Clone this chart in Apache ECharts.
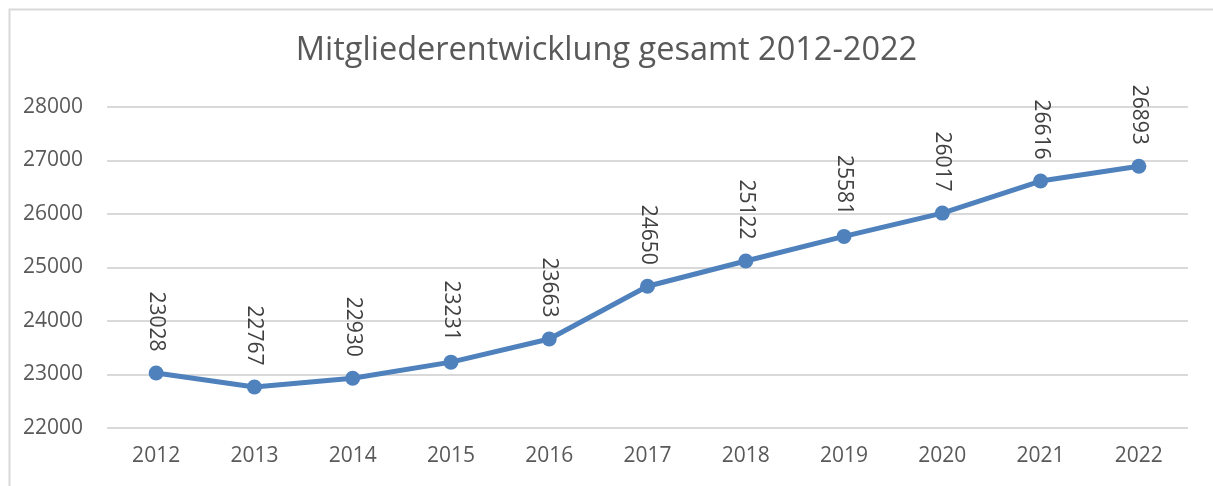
<!DOCTYPE html>
<html>
<head>
<meta charset="utf-8">
<script src="https://cdn.jsdelivr.net/npm/echarts@6/dist/echarts.min.js"></script>
<style>
html,body{margin:0;padding:0;background:#fff;}
#chart{width:1213px;height:486px;}
</style>
</head>
<body>
<div id="chart"></div>
<script>
const titleText = 'Mitgliederentwicklung gesamt 2012-2022';
const years = ['2012','2013','2014','2015','2016','2017','2018','2019','2020','2021','2022'];
const members = [23028, 22767, 22930, 23231, 23663, 24650, 25122, 25581, 26017, 26616, 26893];
const yMin = 22000, yMax = 28000, yStep = 1000;

const FONT = '"Open Sans", "Liberation Sans", Arial, sans-serif';
const chart = echarts.init(document.getElementById('chart'), null, {renderer:'canvas'});
chart.setOption({
  animation: false,
  backgroundColor: '#ffffff',
  graphic: [{
    type: 'rect', left: 7, top: 7, z: -10, silent: true,
    shape: {width: 1240, height: 520},
    style: {fill: 'none', stroke: '#d9d9d9', lineWidth: 2}
  }],
  title: {
    text: titleText, left: 'center', top: 29,
    textStyle: {fontFamily: FONT, fontSize: 32.5, fontWeight: 'normal', color: '#595959'}
  },
  grid: {left: 107, right: 25, top: 107, bottom: 58, containLabel: false},
  xAxis: {
    type: 'category', data: years, boundaryGap: true,
    axisLine: {show: false}, axisTick: {show: false},
    axisLabel: {fontFamily: FONT, fontSize: 21, color: '#595959', margin: 18}
  },
  yAxis: {
    type: 'value', min: yMin, max: yMax, interval: yStep,
    axisLine: {show: false}, axisTick: {show: false},
    splitLine: {lineStyle: {color: '#d9d9d9', width: 2}},
    axisLabel: {fontFamily: FONT, fontSize: 21, color: '#595959', margin: 24,
      formatter: v => String(v)}
  },
  series: [{
    type: 'line', data: members,
    symbol: 'circle', symbolSize: 15,
    lineStyle: {color: '#4f81bd', width: 5},
    itemStyle: {color: '#4f81bd'},
    label: {
      show: true, position: 'top', rotate: -90, distance: 14,
      align: 'right', verticalAlign: 'middle',
      fontFamily: FONT, fontSize: 21, color: '#404040'
    }
  }]
});
</script>
</body>
</html>
